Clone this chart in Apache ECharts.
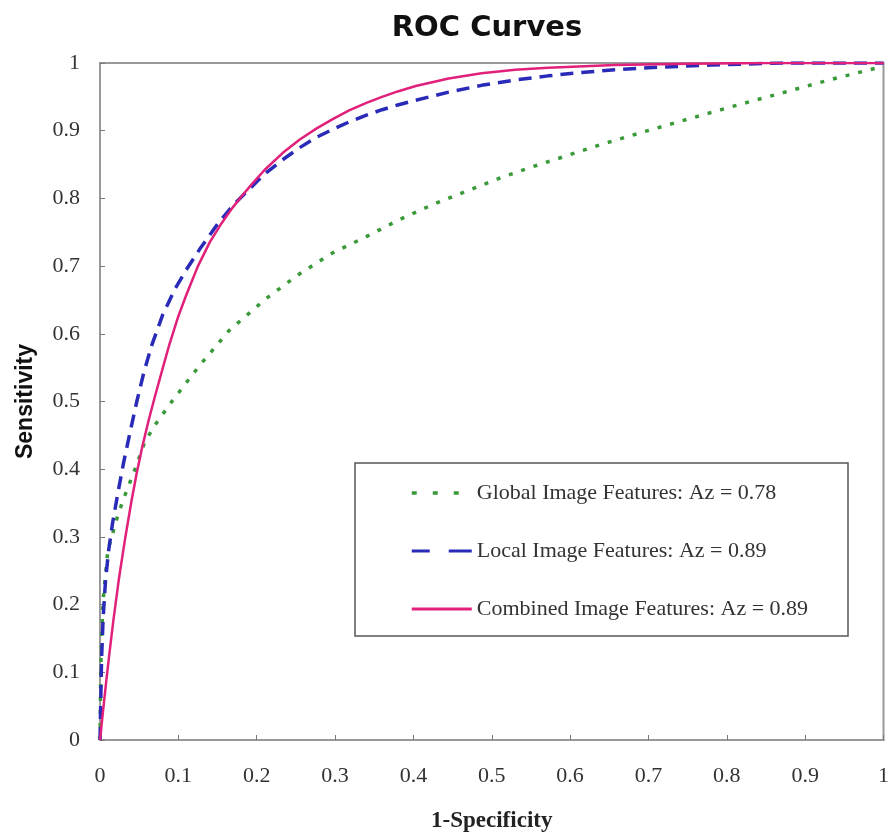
<!DOCTYPE html>
<html><head><meta charset="utf-8">
<script src="https://cdn.jsdelivr.net/npm/echarts@6/dist/echarts.min.js"></script>
<style>html,body{margin:0;padding:0;background:#fff}#c{width:892px;height:840px}</style>
</head><body><div id="c"></div>
<script>
const xTicks = [0,0.1,0.2,0.3,0.4,0.5,0.6,0.7,0.8,0.9,1];
const yTicks = [0,0.1,0.2,0.3,0.4,0.5,0.6,0.7,0.8,0.9,1];
const seriesNames = ['Global Image Features: Az = 0.78','Local Image Features: Az = 0.89','Combined Image Features: Az = 0.89'];
const globalFpr = [0,0.001,0.002,0.004,0.010,0.021,0.029,0.038,0.047,0.057,0.070,0.093,0.127,0.165,0.212,0.254,0.296,0.339,0.381,0.423,0.466,0.508,0.55,0.593,0.635,0.69,0.753,0.817,0.868,0.931,0.982,1];
const globalTpr = [0,0.1,0.152,0.207,0.28,0.325,0.353,0.38,0.407,0.44,0.465,0.502,0.553,0.605,0.652,0.688,0.719,0.743,0.768,0.79,0.81,0.829,0.846,0.862,0.878,0.897,0.918,0.939,0.955,0.975,0.99,0.995];
const localFpr = [0,0.001,0.002,0.004,0.007,0.011,0.016,0.023,0.030,0.039,0.047,0.056,0.066,0.080,0.096,0.112,0.129,0.150,0.17,0.19,0.21,0.233,0.255,0.276,0.297,0.318,0.34,0.36,0.38,0.403,0.445,0.487,0.53,0.572,0.614,0.657,0.70,0.78,0.87,1];
const localTpr = [0,0.06,0.12,0.18,0.235,0.28,0.32,0.366,0.409,0.458,0.500,0.543,0.583,0.628,0.667,0.698,0.728,0.762,0.790,0.813,0.836,0.857,0.875,0.89,0.902,0.913,0.923,0.931,0.938,0.945,0.957,0.967,0.975,0.981,0.986,0.99,0.993,0.997,1,1];
const combFpr = [0,0.004,0.008,0.012,0.017,0.024,0.032,0.040,0.047,0.054,0.062,0.070,0.080,0.089,0.100,0.110,0.125,0.14,0.155,0.169,0.18,0.193,0.21,0.233,0.255,0.276,0.297,0.318,0.34,0.36,0.38,0.403,0.445,0.487,0.53,0.572,0.657,0.75,0.85,1];
const combTpr = [0,0.044,0.087,0.128,0.176,0.237,0.297,0.352,0.395,0.433,0.472,0.507,0.549,0.586,0.626,0.657,0.700,0.735,0.763,0.786,0.802,0.82,0.842,0.867,0.887,0.903,0.917,0.93,0.941,0.95,0.958,0.966,0.977,0.985,0.99,0.993,0.997,0.999,1,1];

const zip = (a,b) => a.map((v,i)=>[v,b[i]]);
const colors = ['#3a9a3a','#2a2ab8','#e0207a'];
const chart = echarts.init(document.getElementById('c'), null, {renderer:'canvas'});
const serif = '"Liberation Serif","Times New Roman",serif';
const sans = '"Liberation Sans",Arial,sans-serif';
const fmt = ticks => v => { const t = ticks.find(k=>Math.abs(k-v)<1e-6); return t===undefined ? '' : String(t); };
const hidden = {color:'rgba(0,0,0,0)',borderColor:'rgba(0,0,0,0)',borderWidth:0};
chart.setOption({
  animation:false,
  backgroundColor:'#fff',
  title:{text:'ROC Curves', left:482, top:9, textAlign:'center',
    textStyle:{fontFamily:'"DejaVu Sans",sans-serif',fontWeight:'bold',fontSize:29,color:'#111'}},
  grid:{left:100,right:5,top:63,bottom:100,show:true,borderColor:'#999',borderWidth:2},
  xAxis:{type:'value',min:0,max:1,interval:0.1,
    name:'1-Specificity',nameLocation:'middle',nameGap:70,
    nameTextStyle:{fontFamily:serif,fontWeight:'bold',fontSize:23,color:'#222'},
    axisLine:{lineStyle:{color:'#999',width:2}},
    axisTick:{inside:true,length:5,lineStyle:{color:'#777'}},
    splitLine:{show:false},
    axisLabel:{margin:25,fontFamily:serif,fontSize:22,color:'#333',formatter:fmt(xTicks)}},
  yAxis:{type:'value',min:0,max:1,interval:0.1,
    name:'Sensitivity',nameLocation:'middle',nameGap:63,
    nameTextStyle:{fontFamily:sans,fontWeight:'bold',fontSize:23,color:'#111'},
    axisLine:{lineStyle:{color:'#999',width:2}},
    axisTick:{inside:true,length:5,lineStyle:{color:'#777'}},
    splitLine:{show:false},
    axisLabel:{margin:20,fontFamily:serif,fontSize:22,color:'#333',formatter:fmt(yTicks)}},
  graphic:[{type:'rect',shape:{x:355,y:463,width:493,height:173},
    style:{fill:'#fff',stroke:'#555',lineWidth:1.5},z:5}],
  legend:{orient:'vertical',left:410,top:481,padding:0,itemGap:34,itemWidth:60,itemHeight:14,z:10,
    textStyle:{fontFamily:serif,fontSize:22,color:'#333',lineHeight:24},
    data:[
      {name:seriesNames[0],itemStyle:hidden,lineStyle:{type:[5,16],width:3.5}},
      {name:seriesNames[1],itemStyle:hidden,lineStyle:{type:[18,19,25,0],width:3}},
      {name:seriesNames[2],itemStyle:hidden,lineStyle:{type:'solid',width:3}}
    ]},
  series:[
    {name:seriesNames[0],type:'line',data:zip(globalFpr,globalTpr),symbol:'none',smooth:false,
      color:colors[0],lineStyle:{color:colors[0],width:3.5,type:[4,9]},z:2},
    {name:seriesNames[1],type:'line',data:zip(localFpr,localTpr),symbol:'none',smooth:false,
      color:colors[1],lineStyle:{color:colors[1],width:3.5,type:[13,8]},z:3},
    {name:seriesNames[2],type:'line',data:zip(combFpr,combTpr),symbol:'none',smooth:false,
      color:colors[2],lineStyle:{color:colors[2],width:2.5,type:'solid'},z:4}
  ]
});
</script></body></html>
